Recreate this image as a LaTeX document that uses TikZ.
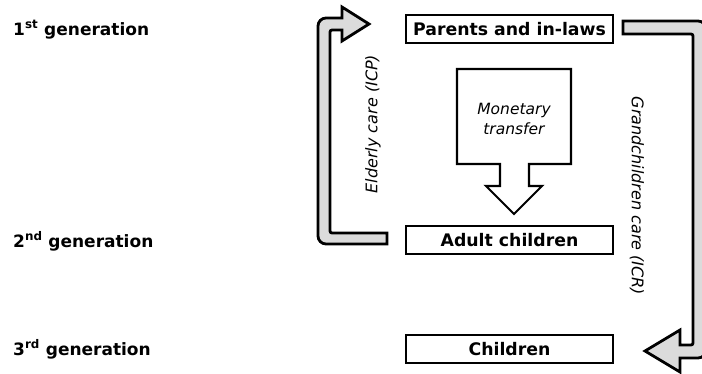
\documentclass[tikz,border=0pt]{standalone}
\usepackage{fontspec}
\setmainfont{DejaVu Sans}
\begin{document}
\begin{tikzpicture}[x=1pt,y=-1pt,
  gen/.style={anchor=base west, inner sep=0pt, font=\bfseries\fontsize{17}{20}\selectfont},
  genbox/.style={draw, line width=2.9pt, minimum width=207pt, minimum height=28pt, inner sep=0pt, outer sep=0pt, font=\bfseries\fontsize{17.3}{20}\selectfont},
  blockarrow/.style={draw, line width=2.8pt, fill=black!14, line join=miter},
  moneyarrow/.style={draw, line width=2.1pt, fill=white, line join=miter},
  flowlabel/.style={inner sep=0pt, font=\itshape\fontsize{16}{19}\selectfont}]
\useasboundingbox (0,0) rectangle (702,373);
\clip (0,0) rectangle (702,373);

% generation labels
\node[gen] (g1) at (13,35) {1\textsuperscript{st} generation};
\node[gen] (g2) at (13,247) {2\textsuperscript{nd} generation};
\node[gen] (g3) at (13,355) {3\textsuperscript{rd} generation};

% boxes
\node[genbox] (parents) at (509.5,29) {Parents and in-laws};
\node[genbox] (adult) at (509.5,240) {Adult children};
\node[genbox] (children) at (509.5,349) {Children};

% monetary transfer block arrow
\draw[moneyarrow] (457,69) -- (571,69) -- (571,164) -- (529,164) -- (529,186)
  -- (542,186) -- (514,214) -- (486,186) -- (500,186) -- (500,164) -- (457,164) -- cycle;
\node[inner sep=0pt, align=center, font=\itshape\fontsize{15.5}{20}\selectfont] (money) at (514,119) {Monetary\\transfer};

% elderly care arrow (adult children -> parents)
\draw[blockarrow] (387,244) [rounded corners=8pt] -- (318,244) -- (318,18) [sharp corners] -- (342,18)
  -- (342,7) -- (369,24) -- (342,41) -- (342,30) [rounded corners=2pt] -- (330,30) -- (330,233) [sharp corners] -- (387,233) -- cycle;
\node[flowlabel, rotate=90] (icp) at (373,124) {Elderly care (ICP)};

% grandchildren care arrow (parents -> children)
\draw[blockarrow] (623,21) [rounded corners=8pt] -- (706,21) -- (706,358) [sharp corners] -- (680,358)
  -- (680,372) -- (645,351) -- (680,330) -- (680,345) [rounded corners=2pt] -- (693,345) -- (693,34) [sharp corners] -- (623,34) -- cycle;
\node[flowlabel, rotate=-90] (icr) at (637,196) {Grandchildren care (ICR)};
\end{tikzpicture}
\end{document}
